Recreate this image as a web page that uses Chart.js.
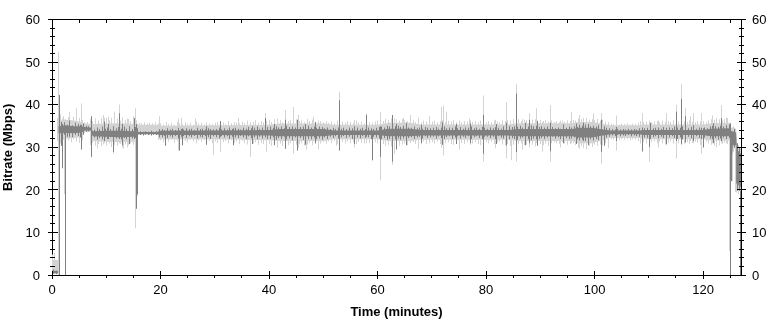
<!DOCTYPE html>
<html>
<head>
<meta charset="utf-8">
<script src="https://cdn.jsdelivr.net/npm/chart.js@4.4.1/dist/chart.umd.min.js"></script>
<style>
  html, body { margin: 0; padding: 0; background: #ffffff; }
  #wrap { width: 776px; height: 321px; }
</style>
</head>
<body>
<div id="wrap"><canvas id="c" width="776" height="321"></canvas></div>
<script>
// ---- tick labels / axes ----
const xTickValues = [0, 20, 40, 60, 80, 100, 120];
const yTickValues = [0, 10, 20, 30, 40, 50, 60];
const xMax = 127;
const yMax = 60;
const binWidth = 0.5; // minutes per sample bin
const xTitle = 'Time (minutes)';
const yTitle = 'Bitrate (Mbps)';

// ---- dense core of each trace: time (minutes), low / high (Mbps) ----
const coreTimes = [0, 1.1, 1.2, 2.5, 4.0, 5.5, 6.0, 7.2, 7.5, 10, 12.5, 15.4, 16.0, 19.4, 19.8, 30, 40, 42, 50, 52,
  60, 62, 66, 68, 84, 86, 96, 97, 99.5, 101, 103, 108.3, 109, 120, 121.5, 125.0, 125.1, 125.5, 126.1, 126.25, 127];
const darkCoreLo = [0.4, 0.4, 33.3, 33.4, 33.3, 33.5, 34.0, 34.0, 32.6, 32.5, 32.4, 32.5, 33.1, 33.1, 32.9, 32.9, 32.8, 32.6, 32.6, 32.9,
  32.9, 32.6, 32.6, 32.8, 32.8, 32.6, 32.6, 32.3, 32.3, 32.7, 33.1, 33.1, 32.9, 32.9, 32.6, 32.6, 24.0, 30.5, 30.5, 21.5, 20.5];
const darkCoreHi = [1.0, 1.0, 35.0, 35.2, 35.0, 35.0, 34.8, 34.7, 33.8, 33.9, 33.9, 33.8, 33.6, 33.6, 33.9, 34.0, 34.1, 34.3, 34.3, 34.0,
  34.0, 34.4, 34.4, 34.1, 34.1, 34.3, 34.3, 34.6, 34.6, 34.3, 34.0, 34.0, 34.1, 34.1, 34.4, 34.5, 33.5, 33.8, 33.5, 29.5, 28.5];
const lightCoreLo = [0.3, 0.3, 32.2, 32.1, 32.2, 32.4, 33.6, 33.6, 31.5, 31.3, 31.2, 31.4, 33.2, 33.2, 31.9, 31.9, 31.7, 31.5, 31.5, 31.9,
  31.9, 31.5, 31.5, 31.8, 31.8, 31.5, 31.5, 31.0, 31.0, 31.5, 32.2, 32.2, 31.9, 31.9, 31.6, 31.6, 23.0, 29.8, 29.8, 20.5, 19.5];
const lightCoreHi = [3.5, 3.5, 36.3, 36.5, 36.3, 36.0, 35.6, 35.5, 35.5, 35.6, 35.7, 35.5, 35.3, 35.3, 35.1, 35.2, 35.3, 35.6, 35.6, 35.3,
  35.3, 35.8, 35.8, 35.4, 35.4, 35.7, 35.7, 36.0, 36.0, 35.7, 35.2, 35.2, 35.4, 35.4, 35.7, 35.8, 34.7, 34.7, 34.4, 30.7, 29.7];

// ---- per 0.5-minute sample strokes: low / high (Mbps) ----
const lightLo = [
  0.2, 0.3, 31.5, 31.0, 31.8, 30.9, 31.6, 31.2, 31.9, 31.4, 31.1, 31.7, 33.4, 33.5, 30.5, 31.0, 30.4, 30.8, 30.2, 30.7,
  30.4, 30.9, 30.1, 30.6, 30.3, 30.8, 30.0, 30.7, 30.5, 31.0, 30.6, 30.9, 33.1, 33.0, 33.2, 33.1, 33.0, 33.2, 33.1, 31.8,
  31.7, 31.2, 31.9, 31.4, 31.8, 31.1, 31.6, 31.3, 31.9, 31.5, 31.2, 31.8, 31.4, 31.0, 31.6, 31.3, 31.7, 31.2, 31.5, 31.0,
  31.4, 31.0, 31.6, 31.2, 31.5, 30.9, 31.7, 31.1, 31.4, 30.8, 31.5, 31.0, 30.7, 31.3, 30.9, 31.2, 30.6, 31.0, 30.8, 30.5,
  30.8, 30.4, 31.0, 30.6, 30.9, 30.3, 30.7, 30.5, 30.9, 30.2, 30.6, 30.8, 31.0, 30.4, 30.7, 31.0, 30.5, 30.8, 30.3, 30.9,
  31.2, 30.9, 31.4, 31.0, 31.5, 30.8, 31.1, 31.3, 30.9, 31.4, 31.0, 31.2, 30.8, 31.3, 31.1, 30.9, 31.4, 31.0, 30.7, 31.2,
  30.9, 30.6, 30.8, 30.4, 30.5, 30.2, 30.6, 30.8, 30.4, 30.7, 30.9, 30.5, 31.0, 31.2, 30.8, 31.1, 30.9, 31.3, 30.8, 31.0,
  31.2, 30.9, 31.3, 30.8, 30.6, 31.0, 31.2, 30.8, 30.6, 31.1, 30.7, 31.0, 30.8, 31.2, 30.6, 30.9, 31.2, 30.8, 30.5, 31.0,
  31.2, 30.9, 31.3, 30.8, 31.1, 31.3, 30.7, 30.5, 30.8, 30.3, 30.6, 30.4, 30.8, 31.0, 30.5, 30.7, 30.3, 30.6, 30.2, 30.6,
  30.8, 30.5, 30.9, 30.4, 31.0, 31.2, 31.0, 30.8, 31.2, 30.9, 30.6, 30.8, 31.0, 30.5, 30.0, 30.3, 29.8, 30.2, 30.4, 30.1,
  30.6, 30.3, 30.7, 30.5, 31.0, 31.4, 31.9, 31.8, 32.0, 31.7, 31.9, 31.8, 32.0, 31.7, 31.9, 31.8, 31.5, 30.9, 31.2, 31.0,
  30.8, 31.2, 31.4, 30.9, 31.3, 31.0, 30.7, 31.1, 31.4, 30.9, 30.6, 31.0, 30.7, 30.9, 31.2, 30.8, 31.0, 31.3, 31.1, 30.6,
  31.0, 31.3, 30.9, 30.6, 30.4, 30.8, 30.5, 30.9, 31.1, 30.8, 21.5, 29.0, 19.5, 19.0
];
const lightHi = [
  4.8, 5.2, 37.0, 36.5, 37.3, 36.6, 37.1, 36.4, 37.2, 36.7, 36.9, 36.5, 35.9, 36.0, 36.6, 36.2, 36.8, 36.3, 37.0, 36.5,
  36.9, 36.4, 37.0, 36.6, 36.8, 36.3, 37.1, 36.5, 36.7, 36.2, 36.8, 36.4, 35.8, 35.7, 35.9, 35.6, 35.8, 35.7, 35.9, 35.6,
  35.7, 35.4, 35.9, 35.5, 35.8, 35.3, 36.0, 35.6, 35.4, 35.9, 35.5, 35.8, 35.3, 36.1, 35.6, 35.8, 35.4, 35.9, 35.6, 35.5,
  35.8, 36.0, 35.6, 35.9, 35.5, 36.2, 35.7, 36.0, 35.8, 35.6, 36.1, 35.8, 36.3, 35.9, 36.0, 36.4, 35.8, 36.2, 35.9, 36.3,
  36.4, 36.0, 36.6, 36.1, 36.4, 35.9, 36.7, 36.2, 36.5, 36.1, 36.6, 36.2, 36.4, 36.0, 36.7, 36.2, 36.5, 36.0, 36.4, 36.2,
  36.0, 36.2, 35.8, 36.1, 35.7, 36.3, 35.9, 36.1, 35.8, 36.2, 36.0, 35.8, 36.3, 35.9, 36.1, 35.7, 36.2, 36.0, 35.8, 36.1,
  36.3, 36.5, 36.2, 36.7, 36.4, 36.8, 36.5, 36.6, 36.3, 36.7, 36.4, 36.2, 36.1, 36.4, 36.0, 36.2, 35.9, 36.3, 36.1, 36.0,
  36.1, 36.3, 35.9, 36.2, 36.4, 36.0, 36.2, 36.1, 36.5, 36.0, 36.3, 35.9, 36.2, 36.1, 36.4, 36.0, 36.2, 35.9, 36.3, 36.1,
  35.9, 36.2, 36.0, 36.3, 36.1, 35.9, 36.4, 36.2, 36.5, 36.3, 36.6, 36.4, 36.7, 36.2, 36.5, 36.4, 36.8, 36.5, 36.6, 36.3,
  36.5, 36.2, 36.4, 36.1, 36.3, 36.0, 36.2, 35.9, 36.3, 36.1, 36.4, 36.2, 36.5, 36.3, 36.8, 36.6, 36.9, 36.7, 36.5, 36.6,
  36.4, 36.7, 36.3, 36.5, 36.1, 36.0, 35.6, 35.5, 35.7, 35.4, 35.6, 35.5, 35.7, 35.4, 35.6, 35.5, 35.8, 36.2, 36.0, 36.1,
  36.3, 36.0, 36.1, 36.2, 35.9, 36.3, 36.1, 36.2, 36.0, 36.4, 36.2, 36.1, 36.4, 36.2, 36.0, 36.3, 36.1, 35.9, 36.2, 36.1,
  36.2, 36.0, 36.4, 36.6, 36.5, 36.3, 36.6, 36.4, 36.7, 36.9, 34.6, 35.0, 32.0, 30.5
];
const darkLo = [
  0.3, 0.2, 32.6, 32.2, 33.0, 32.5, 33.1, 32.4, 32.9, 32.7, 32.3, 33.0, 33.7, 33.8, 32.0, 32.3, 31.8, 32.2, 31.9, 32.4,
  32.0, 32.4, 31.8, 32.1, 32.3, 31.9, 32.2, 31.9, 32.4, 32.1, 32.2, 32.4, 32.9, 32.8, 33.0, 32.9, 32.8, 33.0, 32.9, 32.4,
  32.4, 32.7, 32.2, 32.6, 32.3, 32.7, 32.1, 32.5, 32.7, 32.2, 32.6, 32.4, 32.7, 32.1, 32.5, 32.3, 32.7, 32.4, 32.0, 32.6,
  32.4, 32.1, 32.7, 32.3, 32.6, 32.0, 32.5, 32.3, 32.2, 32.7, 32.3, 31.9, 32.6, 32.2, 32.4, 31.9, 32.5, 32.1, 32.3, 32.0,
  32.0, 32.4, 31.8, 32.2, 32.0, 32.5, 31.9, 32.1, 31.7, 32.3, 32.0, 32.2, 31.8, 32.4, 32.0, 31.9, 32.3, 32.0, 32.1, 31.8,
  32.3, 32.0, 32.5, 32.2, 32.6, 32.1, 32.4, 32.7, 32.2, 32.5, 32.0, 32.5, 32.3, 32.1, 32.6, 32.2, 32.4, 32.0, 32.5, 32.3,
  32.1, 31.9, 32.2, 31.8, 32.0, 31.7, 31.9, 32.1, 31.8, 32.1, 31.9, 32.2, 32.4, 32.0, 32.3, 32.5, 32.1, 32.6, 32.2, 32.4,
  32.5, 32.1, 32.6, 32.2, 32.0, 32.4, 32.6, 32.0, 32.3, 32.6, 32.1, 32.5, 32.2, 32.6, 32.0, 32.4, 32.6, 32.2, 32.0, 32.5,
  32.5, 32.2, 32.5, 32.0, 32.6, 32.3, 32.1, 32.4, 31.9, 32.2, 32.0, 31.8, 32.1, 32.3, 31.9, 32.0, 31.7, 32.1, 31.9, 32.0,
  32.2, 32.0, 32.3, 31.9, 32.5, 32.1, 32.4, 32.0, 32.5, 32.2, 32.0, 32.1, 32.3, 31.9, 31.6, 31.8, 31.5, 31.7, 31.9, 31.6,
  32.0, 31.7, 32.1, 31.9, 32.3, 32.5, 32.8, 32.7, 32.9, 32.6, 32.8, 32.7, 32.9, 32.6, 32.8, 32.7, 32.5, 32.1, 32.3, 32.2,
  32.0, 32.4, 32.6, 32.1, 32.5, 32.2, 32.0, 32.3, 32.6, 32.2, 32.0, 32.4, 31.9, 32.2, 32.5, 32.1, 32.3, 32.6, 32.2, 32.0,
  32.3, 32.6, 32.1, 31.9, 32.2, 31.8, 32.1, 32.3, 32.0, 32.2, 23.0, 30.0, 20.5, 19.8
];
const darkHi = [
  1.3, 1.0, 35.7, 35.4, 35.9, 35.3, 35.7, 35.2, 35.8, 35.5, 35.3, 35.6, 35.1, 35.0, 34.5, 34.2, 34.7, 34.3, 34.9, 34.4,
  34.7, 34.3, 35.0, 34.5, 34.8, 34.4, 34.9, 34.4, 34.7, 34.3, 34.8, 34.5, 33.8, 33.7, 33.8, 33.7, 33.9, 33.7, 33.8, 34.3,
  34.3, 34.1, 34.5, 34.2, 34.4, 34.1, 34.6, 34.3, 34.2, 34.5, 34.3, 34.4, 34.1, 34.6, 34.3, 34.4, 34.2, 34.5, 34.3, 34.2,
  34.3, 34.6, 34.2, 34.5, 34.2, 34.7, 34.3, 34.6, 34.4, 34.2, 34.6, 34.4, 34.8, 34.5, 34.6, 34.9, 34.4, 34.7, 34.5, 34.8,
  34.9, 34.6, 35.0, 34.7, 34.9, 34.5, 35.1, 34.8, 34.9, 34.7, 35.0, 34.8, 34.9, 34.6, 35.1, 34.7, 34.9, 34.6, 34.9, 34.8,
  34.5, 34.7, 34.3, 34.6, 34.3, 34.7, 34.4, 34.6, 34.3, 34.7, 34.5, 34.4, 34.7, 34.4, 34.6, 34.3, 34.7, 34.5, 34.3, 34.6,
  34.8, 34.9, 34.7, 35.1, 34.9, 35.2, 35.0, 35.1, 34.8, 35.1, 34.9, 34.7, 34.6, 34.9, 34.5, 34.7, 34.4, 34.8, 34.6, 34.5,
  34.6, 34.8, 34.4, 34.7, 34.9, 34.5, 34.7, 34.6, 34.9, 34.5, 34.8, 34.4, 34.7, 34.6, 34.9, 34.5, 34.7, 34.4, 34.8, 34.6,
  34.4, 34.7, 34.5, 34.8, 34.6, 34.4, 34.9, 34.7, 35.0, 34.8, 35.0, 34.9, 35.1, 34.7, 35.0, 34.9, 35.2, 35.0, 35.1, 34.8,
  35.0, 34.7, 34.9, 34.6, 34.8, 34.5, 34.7, 34.4, 34.8, 34.6, 34.9, 34.7, 35.0, 34.8, 35.3, 35.1, 35.4, 35.2, 35.0, 35.1,
  34.9, 35.2, 34.8, 35.0, 34.6, 34.5, 34.3, 34.2, 34.4, 34.2, 34.3, 34.2, 34.4, 34.2, 34.3, 34.2, 34.5, 34.7, 34.5, 34.6,
  34.8, 34.5, 34.6, 34.7, 34.4, 34.8, 34.6, 34.7, 34.5, 34.9, 34.7, 34.6, 34.9, 34.7, 34.5, 34.8, 34.6, 34.4, 34.7, 34.6,
  34.7, 34.5, 34.9, 35.1, 35.0, 34.8, 35.1, 34.9, 35.2, 35.4, 33.8, 34.3, 31.0, 30.0
];

// ---- single-column spikes and dropouts: time (minutes), low / high (Mbps) ----
const lightSpikeTimes = [
  1.15, 1.6, 2.0, 2.3, 3.3, 4.5, 5.5, 7.3, 8.4, 9.5, 9.7, 10.5, 11.3, 11.5, 12.5, 13.1, 14.0, 15.0, 15.3, 15.48,
  15.85, 19.9, 23.3, 23.8, 26.5, 29.7, 31.0, 34.3, 36.5, 39.3, 39.6, 41.5, 43.0, 44.5, 45.4, 47.0, 48.2, 49.2, 52.5, 53.0,
  55.7, 57.9, 59.1, 60.5, 62.7, 63.2, 64.8, 66.0, 67.5, 69.5, 71.8, 72.1, 72.8, 75.2, 77.0, 79.5, 81.8, 83.8, 84.7, 85.7,
  86.8, 88.1, 89.3, 90.5, 91.8, 93.7, 95.8, 97.3, 98.5, 99.9, 101.2, 102.6, 104.1, 108.9, 110.2, 111.8, 113.2, 115.2, 116.1, 116.8,
  117.6, 118.3, 119.8, 121.8, 122.4, 123.4, 124.3, 124.85, 125.4, 126.2, 126.85
];
const lightSpikeLo = [
  0.0, 31.0, 29.0, 19.0, 32.0, 32.5, 31.0, 27.6, 29.8, 32.0, 31.0, 32.0, 28.5, 33.0, 31.0, 29.7, 30.0, 32.0, 32.0, 11.0,
  18.6, 32.5, 29.3, 32.5, 32.5, 28.3, 28.9, 32.5, 27.8, 32.5, 28.9, 30.0, 29.7, 28.5, 30.0, 29.5, 32.5, 29.5, 30.4, 29.3,
  30.0, 31.0, 27.0, 22.3, 25.9, 28.5, 32.5, 32.5, 29.7, 32.5, 30.0, 28.1, 32.5, 29.5, 32.5, 26.7, 29.8, 27.4, 27.0, 26.7,
  29.5, 30.0, 31.0, 29.0, 26.7, 30.0, 31.0, 29.7, 29.5, 31.0, 26.2, 29.8, 29.3, 28.9, 26.6, 30.0, 30.5, 27.4, 30.5, 31.0,
  31.5, 31.0, 28.5, 31.0, 30.0, 31.0, 31.0, 5.7, 22.0, 19.4, 9.0
];
const lightSpikeHi = [
  52.5, 37.8, 36.8, 36.5, 38.4, 39.2, 40.3, 37.2, 35.5, 37.6, 37.0, 37.3, 35.0, 38.4, 40.1, 35.0, 36.8, 37.3, 39.2, 35.0,
  35.5, 37.3, 36.8, 37.0, 36.8, 34.0, 36.2, 37.0, 34.5, 38.0, 34.5, 36.8, 38.8, 39.5, 37.7, 34.5, 37.2, 34.5, 34.5, 43.1,
  36.5, 38.0, 34.0, 38.4, 37.6, 36.8, 37.0, 37.6, 37.0, 37.3, 39.5, 39.8, 38.4, 34.5, 36.8, 42.2, 36.5, 40.7, 34.5, 44.9,
  36.6, 38.0, 39.2, 36.0, 39.9, 36.3, 38.4, 37.6, 37.0, 38.0, 38.0, 36.0, 37.5, 38.0, 35.0, 36.3, 38.0, 40.0, 44.9, 39.2,
  37.3, 38.0, 38.0, 37.5, 37.0, 39.9, 37.0, 35.5, 33.8, 31.0, 22.0
];
const darkSpikeTimes = [
  1.3, 1.7, 2.0, 2.45, 3.3, 5.5, 7.3, 9.6, 10.5, 11.4, 12.5, 13.0, 14.3, 15.2, 15.5, 15.85, 20.9, 23.5, 24.0, 28.5,
  31.0, 33.5, 37.0, 39.3, 41.0, 43.0, 45.2, 46.8, 48.5, 53.0, 55.8, 57.9, 59.1, 60.5, 62.8, 63.5, 65.3, 68.2, 72.0, 74.5,
  77.2, 79.5, 82.0, 83.8, 85.7, 87.3, 88.1, 89.5, 91.8, 94.2, 96.7, 97.9, 98.8, 101.2, 101.9, 104.0, 108.9, 110.2, 110.4, 113.3,
  115.2, 116.1, 116.8, 118.3, 120.0, 122.0, 123.4, 125.0, 125.3, 126.3, 126.95
];
const darkSpikeLo = [
  0.0, 30.4, 25.1, 0.0, 32.5, 29.5, 27.8, 31.5, 32.0, 28.9, 32.0, 30.5, 30.8, 32.0, 15.6, 19.0, 30.4, 29.3, 30.5, 30.6,
  32.5, 30.5, 30.8, 32.5, 30.5, 29.7, 29.3, 30.6, 31.0, 29.3, 30.8, 32.5, 27.0, 27.8, 26.7, 29.5, 30.5, 31.0, 30.6, 30.8,
  31.0, 28.5, 30.8, 30.5, 28.9, 30.5, 31.0, 30.4, 29.1, 31.0, 30.8, 31.5, 30.5, 29.0, 30.4, 31.5, 29.1, 30.1, 32.5, 30.8,
  31.5, 30.8, 31.2, 31.5, 30.0, 31.0, 31.5, 0.0, 22.1, 19.8, 0.0
];
const darkSpikeHi = [
  42.3, 36.0, 35.5, 35.0, 36.3, 35.3, 37.3, 36.1, 35.5, 34.0, 38.0, 35.5, 35.0, 36.9, 35.5, 34.0, 33.8, 34.0, 34.5, 35.0,
  36.2, 34.5, 35.0, 36.9, 35.5, 36.5, 36.5, 35.5, 36.0, 41.1, 35.0, 37.6, 33.5, 35.0, 37.6, 35.5, 35.8, 35.3, 35.9, 35.5,
  35.6, 37.6, 35.5, 35.8, 42.6, 35.8, 36.5, 36.2, 35.8, 35.4, 35.6, 35.8, 35.5, 36.5, 34.5, 34.8, 34.5, 34.0, 35.8, 34.5,
  38.4, 41.4, 37.3, 35.2, 34.5, 35.7, 36.9, 35.7, 33.8, 30.0, 19.8
];

// ---- styles ----
const LIGHT = '#d3d3d3';
const DARK = '#808080';
const FONT = '"Liberation Sans", Arial, Helvetica, sans-serif';

const lightStrokeTimes = lightLo.map((_, i) => i * binWidth + 0.05);
const darkStrokeTimes = darkLo.map((_, i) => i * binWidth + 0.3);
const toRanges = (ts, lo, hi) => ts.map((t, i) => ({ x: t, y: [lo[i], hi[i]] }));
const toPoints = (ts, v) => ts.map((t, i) => ({ x: t, y: v[i] }));

const align = v => Math.round(v - 0.5);

// snap 1px stroke bars onto whole device pixels so they stay crisp
const snapPlugin = {
  id: 'snapStrokes',
  beforeDatasetsDraw(chart) {
    chart.data.datasets.forEach((ds, i) => {
      if (!ds.isStroke) return;
      chart.getDatasetMeta(i).data.forEach(el => { el.x = align(el.x) + 0.5; });
    });
  }
};

const tickPlugin = {
  id: 'axisTicks',
  afterDraw(chart) {
    const { ctx, chartArea: a, scales } = chart;
    const xs = scales.x, ys = scales.y;
    const L = align(a.left), R = align(a.right), T = align(a.top), B = align(a.bottom);
    ctx.save();
    ctx.strokeStyle = '#000';
    ctx.lineWidth = 1;
    ctx.beginPath();
    ctx.moveTo(L, T + 0.5); ctx.lineTo(R + 1, T + 0.5);
    for (let v = 0; v <= yMax; v += 2) {
      const py = align(ys.getPixelForValue(v)) + 0.5;
      if (v % 10 === 0) {
        ctx.moveTo(L - 4, py); ctx.lineTo(L + 6, py);
        ctx.moveTo(R - 4, py); ctx.lineTo(R + 5, py);
      } else {
        ctx.moveTo(L - 2, py); ctx.lineTo(L + 3, py);
        ctx.moveTo(R - 2, py); ctx.lineTo(R + 3, py);
      }
    }
    for (let v = 0; v <= xMax; v += 5) {
      const px = align(xs.getPixelForValue(v)) + 0.5;
      if (v % 20 === 0) {
        ctx.moveTo(px, B - 4); ctx.lineTo(px, B + 4);
      } else {
        ctx.moveTo(px, B); ctx.lineTo(px, B + 3);
      }
      ctx.moveTo(px, T); ctx.lineTo(px, T + 4);
    }
    ctx.stroke();
    ctx.restore();
  }
};

const tickFont = { family: FONT, size: 13 };
const titleFont = { family: FONT, size: 13, weight: 'bold' };
const coreLine = { type: 'line', pointRadius: 0, borderWidth: 1, borderColor: 'rgba(0,0,0,0)', tension: 0, xAxisID: 'x', yAxisID: 'y' };
const strokeBar = { grouped: false, barThickness: 1, inflateAmount: 0, borderWidth: 0, xAxisID: 'x', yAxisID: 'y', isStroke: true };

new Chart(document.getElementById('c'), {
  type: 'bar',
  data: {
    datasets: [
      { ...coreLine, label: 'lightCoreLo', data: toPoints(coreTimes, lightCoreLo), fill: false, order: 8 },
      { ...coreLine, label: 'lightCoreHi', data: toPoints(coreTimes, lightCoreHi), fill: '-1', backgroundColor: LIGHT, order: 7 },
      { ...strokeBar, label: 'lightSamples', data: toRanges(lightStrokeTimes, lightLo, lightHi), backgroundColor: LIGHT, order: 6 },
      { ...strokeBar, label: 'lightSpikes', data: toRanges(lightSpikeTimes, lightSpikeLo, lightSpikeHi), backgroundColor: LIGHT, order: 5 },
      { ...coreLine, label: 'darkCoreLo', data: toPoints(coreTimes, darkCoreLo), fill: false, order: 4 },
      { ...coreLine, label: 'darkCoreHi', data: toPoints(coreTimes, darkCoreHi), fill: '-1', backgroundColor: DARK, order: 3 },
      { ...strokeBar, label: 'darkSamples', data: toRanges(darkStrokeTimes, darkLo, darkHi), backgroundColor: DARK, order: 2 },
      { ...strokeBar, label: 'darkSpikes', data: toRanges(darkSpikeTimes, darkSpikeLo, darkSpikeHi), backgroundColor: DARK, order: 1 }
    ]
  },
  options: {
    responsive: false,
    animation: false,
    devicePixelRatio: 1,
    events: [],
    layout: { padding: { top: 12, left: 0, right: 0, bottom: 0 } },
    plugins: { legend: { display: false }, tooltip: { enabled: false } },
    scales: {
      x: {
        type: 'linear', position: 'bottom', min: 0, max: xMax, offset: false,
        grid: { display: false, drawTicks: false, offset: false },
        border: { display: true, color: '#000', width: 1 },
        ticks: { font: tickFont, color: '#000', padding: 8, maxRotation: 0, autoSkip: false },
        afterBuildTicks: s => { s.ticks = xTickValues.map(v => ({ value: v })); },
        afterFit: s => { s.height = 46; },
        title: { display: true, text: xTitle, font: titleFont, color: '#000', padding: { top: 0, bottom: 1 } }
      },
      y: {
        type: 'linear', position: 'left', min: 0, max: yMax,
        grid: { display: false, drawTicks: false },
        border: { display: true, color: '#000', width: 1 },
        ticks: { font: tickFont, color: '#000', padding: 12, labelOffset: 1 },
        afterBuildTicks: s => { s.ticks = yTickValues.map(v => ({ value: v })); },
        afterFit: s => { s.width = 52; },
        title: { display: true, text: yTitle, font: titleFont, color: '#000', padding: { top: 1, bottom: 0 } }
      },
      y2: {
        type: 'linear', position: 'right', min: 0, max: yMax,
        grid: { display: false, drawTicks: false },
        border: { display: true, color: '#000', width: 1 },
        ticks: { font: tickFont, color: '#000', padding: 11, labelOffset: 1 },
        afterBuildTicks: s => { s.ticks = yTickValues.map(v => ({ value: v })); },
        afterFit: s => { s.width = 35; }
      }
    }
  },
  plugins: [snapPlugin, tickPlugin]
});
</script>
</body>
</html>
